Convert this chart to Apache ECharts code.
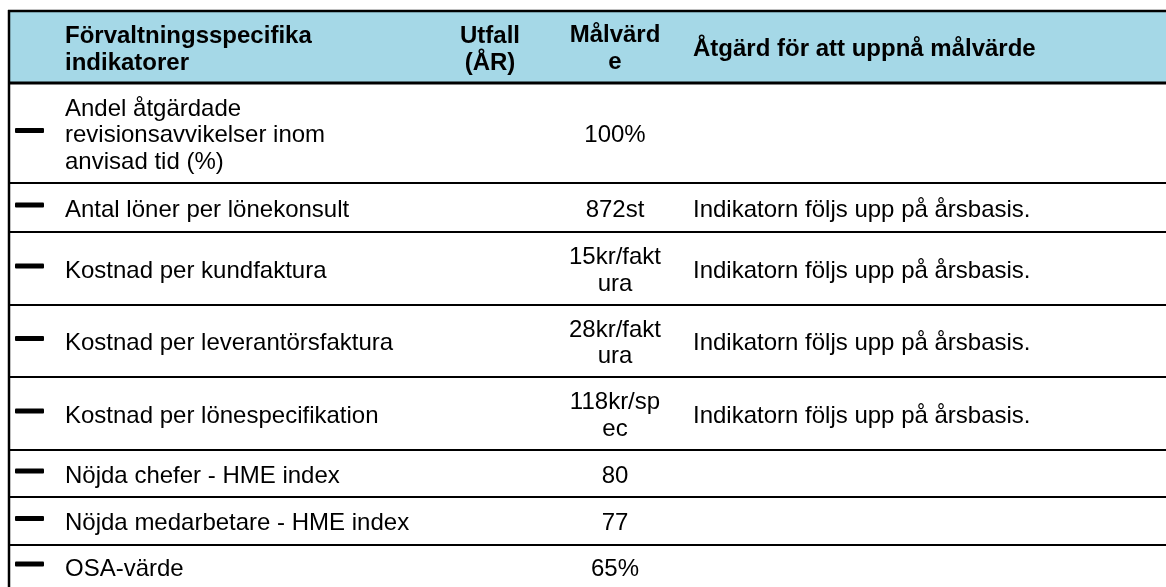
<!DOCTYPE html>
<html>
<head>
<meta charset="utf-8">
<script src="https://cdn.jsdelivr.net/npm/echarts@6/dist/echarts.min.js"></script>
<style>
  html, body { margin: 0; padding: 0; background: #fff; }
  #main { width: 1166px; height: 587px; }
</style>
</head>
<body>
<div id="main"></div>
<script>
// kolumnrubriker
const headers = ['Förvaltningsspecifika\nindikatorer', 'Utfall\n(ÅR)', 'Målvärd\ne', 'Åtgärd för att uppnå målvärde'];
// indikatorer (radbrytningar som i tabellen)
const indicators = [
  'Andel åtgärdade\nrevisionsavvikelser inom\nanvisad tid (%)',
  'Antal löner per lönekonsult',
  'Kostnad per kundfaktura',
  'Kostnad per leverantörsfaktura',
  'Kostnad per lönespecifikation',
  'Nöjda chefer - HME index',
  'Nöjda medarbetare - HME index',
  'OSA-värde'
];
const utfall = ['', '', '', '', '', '', '', ''];
const malvarde = ['100%', '872st', '15kr/fakt\nura', '28kr/fakt\nura', '118kr/sp\nec', '80', '77', '65%'];
const atgard = [
  '',
  'Indikatorn följs upp på årsbasis.',
  'Indikatorn följs upp på årsbasis.',
  'Indikatorn följs upp på årsbasis.',
  'Indikatorn följs upp på årsbasis.',
  '',
  '',
  ''
];

// layout, i axelenheter (dolda axlar 0..1166 / 0..587)
const W = 1166, H = 587;
const headerTop = 11, headerBottom = 83;
const rowEdges = [83, 183, 232, 305, 377, 450, 497, 545, 588];
const colLeft = 9, colName = 65, colUtfall = 490, colMal = 615, colAtgard = 693;
const fontSize = 24, lineH = 26.5;
const fontFam = '"Liberation Sans", Arial, sans-serif';

function txt(api, x, y, text, align, bold) {
  const p = api.coord([x, y]);
  return {
    type: 'text',
    style: {
      x: p[0], y: p[1], text: text,
      font: (bold ? 'bold ' : '') + fontSize + 'px ' + fontFam,
      fill: '#000', align: align, verticalAlign: 'middle', lineHeight: lineH
    }
  };
}
function hline(api, y, w) {
  const a = api.coord([colLeft - 1, y]), b = api.coord([W, y]);
  return { type: 'line', shape: { x1: a[0], y1: a[1], x2: b[0], y2: b[1] }, style: { stroke: '#000', lineWidth: w } };
}

function renderHeader(params, api) {
  const tl = api.coord([colLeft, headerTop]), br = api.coord([W, headerBottom]);
  const lt = api.coord([colLeft, headerTop]), lb = api.coord([colLeft, H]);
  const mid = (headerTop + headerBottom) / 2;
  return {
    type: 'group',
    children: [
      { type: 'rect', shape: { x: tl[0], y: tl[1], width: br[0] - tl[0], height: br[1] - tl[1] }, style: { fill: '#a5d8e7' } },
      hline(api, headerTop, 2.5),
      hline(api, headerBottom, 3),
      { type: 'line', shape: { x1: lt[0], y1: lt[1] - 1, x2: lb[0], y2: lb[1] }, style: { stroke: '#000', lineWidth: 2.5 } },
      txt(api, colName, mid + 3, headers[0], 'left', true),
      txt(api, colUtfall, mid + 3, headers[1], 'center', true),
      txt(api, colMal, mid + 2, headers[2], 'center', true),
      txt(api, colAtgard, mid + 2, headers[3], 'left', true)
    ]
  };
}

function renderRow(params, api) {
  const i = api.value(0);
  const y0 = rowEdges[i], y1 = rowEdges[i + 1];
  const mid = (y0 + y1) / 2;
  const d0 = api.coord([15, mid - 5]), d1 = api.coord([44, mid]);
  const children = [
    { type: 'rect', shape: { x: d0[0], y: d0[1], width: d1[0] - d0[0], height: d1[1] - d0[1], r: 1 }, style: { fill: '#000' } },
    txt(api, colName, mid + 2.5, indicators[i], 'left', false),
    txt(api, colUtfall, mid + 2.5, utfall[i], 'center', false),
    txt(api, colMal, mid + 2.5, malvarde[i], 'center', false),
    txt(api, colAtgard, mid + 2.5, atgard[i], 'left', false)
  ];
  // sista raden saknar synlig underkant
  if (i < indicators.length - 1) children.unshift(hline(api, y1, 2));
  return { type: 'group', children: children };
}

const chart = echarts.init(document.getElementById('main'));
chart.setOption({
  animation: false,
  backgroundColor: '#fff',
  grid: { left: 0, right: 0, top: 0, bottom: 0 },
  xAxis: { type: 'value', min: 0, max: W, show: false },
  yAxis: { type: 'value', min: 0, max: H, inverse: true, show: false },
  series: [
    { type: 'custom', clip: false, renderItem: renderHeader, data: [[0]] },
    { type: 'custom', clip: false, renderItem: renderRow, data: indicators.map((n, i) => [i]) }
  ]
});
</script>
</body>
</html>
